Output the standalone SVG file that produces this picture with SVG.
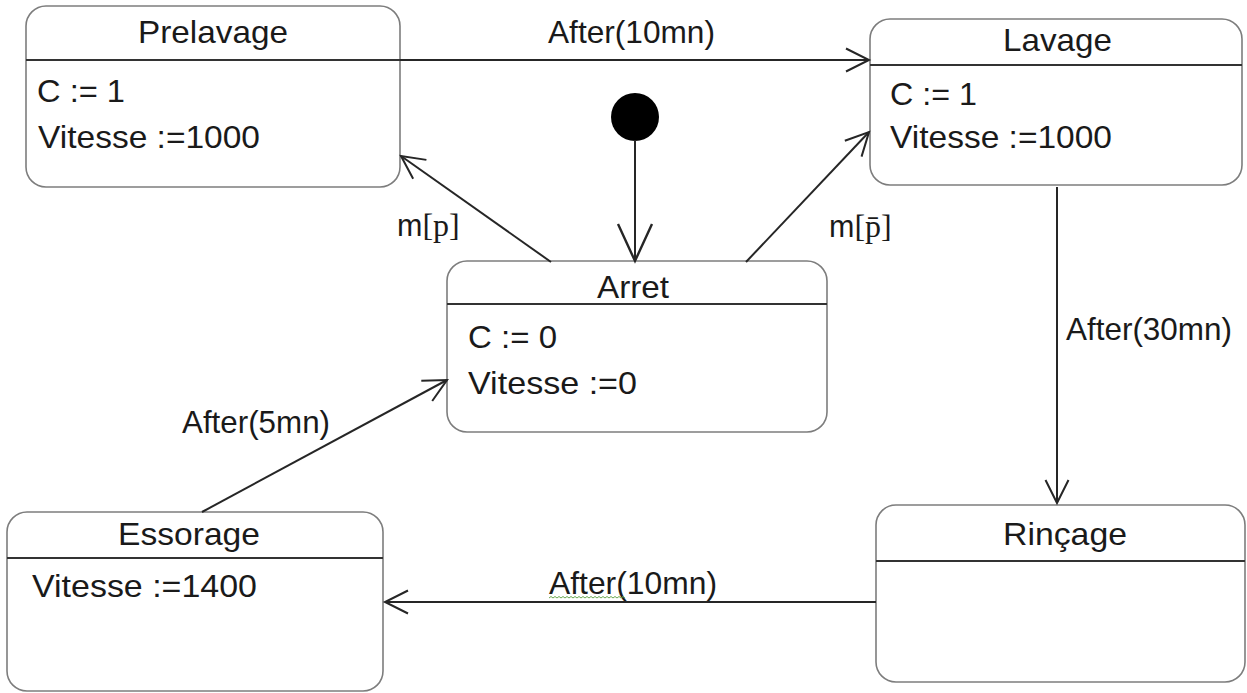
<svg xmlns="http://www.w3.org/2000/svg" width="1247" height="693" viewBox="0 0 1247 693">
  <style>
    .box { fill: #ffffff; stroke: #7d7d7d; stroke-width: 1.6; }
    .div { stroke: #333333; stroke-width: 2; }
    .t { font-family: "Liberation Sans", Arial, sans-serif; font-size: 30.5px; fill: #1a1a1a; }
    .s { font-family: "Liberation Serif", "Times New Roman", serif; font-size: 32px; fill: #1a1a1a; }
    .edge { fill: none; stroke: #262626; stroke-width: 2; }
  </style>
  <defs>
    <marker id="open" markerUnits="userSpaceOnUse" orient="auto" markerWidth="1" markerHeight="1" overflow="visible">
      <path d="M-23,-11.5 L0,0 L-23,11.5" fill="none" stroke="#262626" stroke-width="2"/>
    </marker>
    <marker id="openLarge" markerUnits="userSpaceOnUse" orient="auto" markerWidth="1" markerHeight="1" overflow="visible">
      <path d="M-37,-17 L0,0 L-37,17" fill="none" stroke="#262626" stroke-width="2.4"/>
    </marker>
  </defs>
  <rect width="1247" height="693" fill="#ffffff"/>

  <!-- states -->
  <g id="prelavage">
    <rect class="box" x="26" y="6" width="374" height="181" rx="20"/>
    <line class="div" x1="26" y1="60" x2="400" y2="60"/>
    <text class="t" x="138" y="43" textLength="150" lengthAdjust="spacingAndGlyphs">Prelavage</text>
    <text class="t" x="37" y="102" textLength="88" lengthAdjust="spacingAndGlyphs">C := 1</text>
    <text class="t" x="38" y="148" textLength="222" lengthAdjust="spacingAndGlyphs">Vitesse :=1000</text>
  </g>

  <g id="lavage">
    <rect class="box" x="870" y="19" width="372" height="166" rx="20"/>
    <line class="div" x1="870" y1="65" x2="1242" y2="65"/>
    <text class="t" x="1003" y="51" textLength="109" lengthAdjust="spacingAndGlyphs">Lavage</text>
    <text class="t" x="890" y="105" textLength="87" lengthAdjust="spacingAndGlyphs">C := 1</text>
    <text class="t" x="890" y="148" textLength="222" lengthAdjust="spacingAndGlyphs">Vitesse :=1000</text>
  </g>

  <g id="arret">
    <rect class="box" x="447" y="261" width="380" height="171" rx="20"/>
    <line class="div" x1="447" y1="304" x2="827" y2="304"/>
    <text class="t" x="597" y="298" textLength="72" lengthAdjust="spacingAndGlyphs">Arret</text>
    <text class="t" x="468" y="348" textLength="89" lengthAdjust="spacingAndGlyphs">C := 0</text>
    <text class="t" x="468" y="394" textLength="169" lengthAdjust="spacingAndGlyphs">Vitesse :=0</text>
  </g>

  <g id="essorage">
    <rect class="box" x="7" y="512" width="376" height="179" rx="20"/>
    <line class="div" x1="7" y1="558" x2="383" y2="558"/>
    <text class="t" x="118" y="545" textLength="142" lengthAdjust="spacingAndGlyphs">Essorage</text>
    <text class="t" x="32" y="597" textLength="225" lengthAdjust="spacingAndGlyphs">Vitesse :=1400</text>
  </g>

  <g id="rincage">
    <rect class="box" x="876" y="505" width="369" height="177" rx="20"/>
    <line class="div" x1="876" y1="561" x2="1245" y2="561"/>
    <text class="t" x="1003" y="545" textLength="124" lengthAdjust="spacingAndGlyphs">Rinçage</text>
  </g>

  <g id="initial">
    <circle cx="635" cy="117" r="24" fill="#000000"/>
  </g>

  <!-- transitions -->
  <g id="connectors">
    <line class="edge" x1="400" y1="60" x2="869" y2="60" marker-end="url(#open)"/>
    <line class="edge" x1="635" y1="140" x2="635" y2="261" marker-end="url(#openLarge)"/>
    <line class="edge" x1="551" y1="262" x2="401" y2="156" marker-end="url(#open)"/>
    <line class="edge" x1="746" y1="262" x2="869" y2="132" marker-end="url(#open)"/>
    <line class="edge" x1="1057" y1="187" x2="1057" y2="503" marker-end="url(#open)"/>
    <line class="edge" x1="876" y1="602" x2="385" y2="602" marker-end="url(#open)"/>
    <line class="edge" x1="202" y1="512" x2="447" y2="380" marker-end="url(#open)"/>

    <text class="t" x="548" y="43" textLength="167" lengthAdjust="spacingAndGlyphs">After(10mn)</text>
    <text class="t" x="1066" y="340" textLength="166" lengthAdjust="spacingAndGlyphs">After(30mn)</text>
    <text class="t" x="549" y="594" textLength="168" lengthAdjust="spacingAndGlyphs">After(10mn)</text>
    <path d="M549,598 l2,-1.5 l2,1.5 l2,-1.5 l2,1.5 l2,-1.5 l2,1.5 l2,-1.5 l2,1.5 l2,-1.5 l2,1.5 l2,-1.5 l2,1.5 l2,-1.5 l2,1.5 l2,-1.5 l2,1.5 l2,-1.5 l2,1.5 l2,-1.5 l2,1.5 l2,-1.5 l2,1.5 l2,-1.5 l2,1.5 l2,-1.5 l2,1.5 l2,-1.5 l2,1.5 l2,-1.5 l2,1.5 l2,-1.5 l2,1.5 l2,-1.5 l2,1.5 l2,-1.5 l2,1.5 l2,-1.5 l2,1.5" fill="none" stroke="#6aa84f" stroke-width="1"/>
    <text class="t" x="182" y="433" textLength="148" lengthAdjust="spacingAndGlyphs">After(5mn)</text>

    <text x="397" y="236"><tspan class="t">m</tspan><tspan class="s">[p]</tspan></text>
    <text x="829" y="237"><tspan class="t">m</tspan><tspan class="s">[p̄]</tspan></text>
  </g>
</svg>
